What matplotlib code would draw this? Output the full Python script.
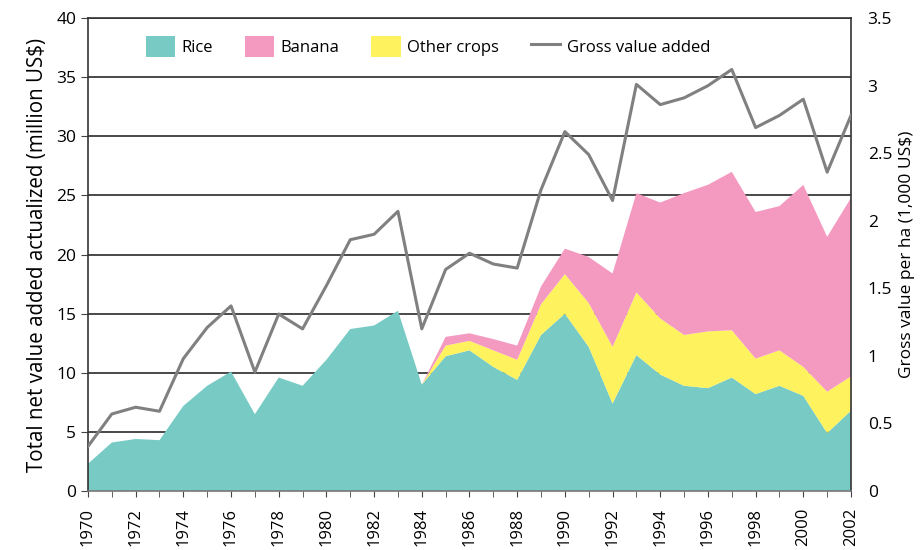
import matplotlib
matplotlib.use("Agg")
from matplotlib import pyplot as plt
from matplotlib.patches import Patch
from matplotlib.lines import Line2D
import numpy as np

plt.rcParams['font.family'] = ['Open Sans', 'DejaVu Sans']

# Data
years = list(range(1970, 2003))

# million US$, stacked
rice = [2.3, 4.1, 4.4, 4.3, 7.2, 8.9, 10.1, 6.5, 9.6, 8.9,
        11.1, 13.7, 14.0, 15.25, 9.0, 11.4, 11.9, 10.5, 9.4, 13.2,
        15.0, 12.2, 7.4, 11.5, 9.85, 8.9, 8.7, 9.6, 8.2, 8.9,
        8.05, 4.9, 6.8]
# zero until 1984, then 1985..2002
other_crops = [0] * 15 + [0.9, 0.8, 1.4, 1.7, 2.6,
                          3.35, 3.7, 4.8, 5.3, 4.75, 4.3, 4.8, 4.0, 3.0, 3.0,
                          2.45, 3.5, 2.9]
banana = [0] * 15 + [0.74, 0.64, 0.95, 1.2, 1.5,
                     2.15, 3.9, 6.2, 8.4, 9.8, 12.0, 12.4, 13.4, 12.4, 12.2,
                     15.4, 13.1, 15.1]

# 1,000 US$ per ha
gross_value = [0.33, 0.57, 0.62, 0.59, 0.98, 1.21, 1.37, 0.88, 1.31, 1.20,
               1.52, 1.86, 1.90, 2.07, 1.20, 1.64, 1.76, 1.68, 1.65, 2.23,
               2.66, 2.49, 2.15, 3.01, 2.86, 2.91, 3.00, 3.12, 2.69, 2.78,
               2.90, 2.36, 2.78]

c_rice = '#78cbc5'
c_banana = '#f49ac1'
c_other = '#fff25f'
c_line = '#808080'

fig = plt.figure(figsize=(9.21, 5.5), dpi=100)
ax = fig.add_axes([0.0955, 0.1073, 0.8285, 0.8597])

ax.stackplot(years, rice, other_crops, banana,
             colors=[c_rice, c_other, c_banana], linewidth=0, zorder=2)

ax.set_xlim(1970, 2002)
ax.set_ylim(0, 40)
ax.set_yticks(np.arange(0, 41, 5))
ax.yaxis.grid(True, color='#3a3a3a', linewidth=1.3, zorder=0)
ax.set_axisbelow(True)

ax.set_xticks(years, minor=True)
ax.set_xticks(years[::2])
ax.set_xticklabels([str(y) for y in years[::2]], rotation=90, fontsize=12)
ax.tick_params(axis='x', which='both', direction='out', length=4,
               color='#444444', pad=8)
ax.tick_params(axis='y', direction='out', length=5, color='#444444',
               labelsize=12.5)
ax.set_ylabel('Total net value added actualized (million US$)',
              fontsize=14.8, labelpad=6)

for side in ['left', 'top', 'right']:
    ax.spines[side].set_color('#333333')
    ax.spines[side].set_linewidth(1.2)
ax.spines['bottom'].set_color('#777777')
ax.spines['bottom'].set_linewidth(1.2)

ax2 = ax.twinx()
ax2.plot(years, gross_value, color=c_line, linewidth=2.2, zorder=3)
ax2.set_ylim(0, 3.5)
ax2.set_yticks(np.arange(0, 3.51, 0.5))
ax2.set_yticklabels(['0', '0.5', '1', '1.5', '2', '2.5', '3', '3.5'])
ax2.tick_params(axis='y', length=0, pad=12, labelsize=12.5)
ax2.set_ylabel('Gross value per ha (1,000 US$)', fontsize=12.5, labelpad=5)
for side in ['left', 'top', 'right', 'bottom']:
    ax2.spines[side].set_visible(False)

handles = [Patch(facecolor=c_rice, edgecolor='none'),
           Patch(facecolor=c_banana, edgecolor='none'),
           Patch(facecolor=c_other, edgecolor='none'),
           Line2D([], [], color=c_line, linewidth=2.2)]
labels = ['Rice', 'Banana', 'Other crops', 'Gross value added']
ax2.legend(handles, labels, ncol=4, loc='center',
           bbox_to_anchor=(0.4456, 0.9408), frameon=False, fontsize=12,
           handlelength=1.75, handleheight=1.55, columnspacing=1.9,
           handletextpad=0.4, borderpad=0)

fig.savefig('out.png', dpi=100)
